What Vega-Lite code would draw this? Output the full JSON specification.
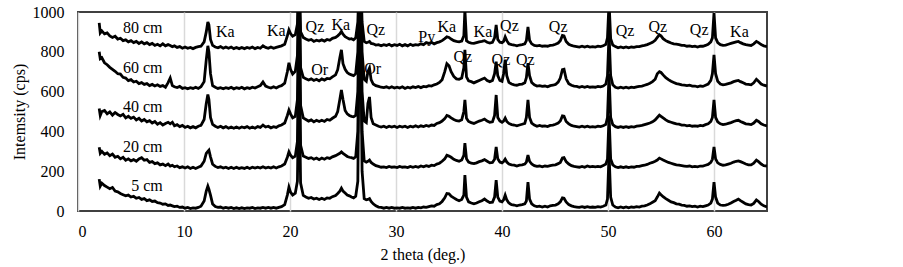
{
  "$schema": "https://vega.github.io/schema/vega-lite/v6.json",
  "autosize": {"type": "none"},
  "padding": {"left": 78, "top": 12, "right": 136, "bottom": 56},
  "width": 689,
  "height": 199,
  "background": "white",
  "config": {
    "view": {"stroke": "#404040", "strokeWidth": 2},
    "font": "Liberation Serif"
  },
  "encoding": {
    "x": {
      "field": "t", "type": "quantitative",
      "scale": {"domain": [0, 65], "nice": false},
      "axis": {
        "title": "2 theta (deg.)", "values": [0, 10, 20, 30, 40, 50, 60], "format": "d",
        "grid": true, "gridColor": "#d9d9d9", "gridWidth": 1.5,
        "domain": false, "ticks": false, "labelPadding": 12, "labelOverlap": false,
        "labelFont": "Liberation Serif", "labelFontSize": 16, "labelColor": "black",
        "titleFont": "Liberation Serif", "titleFontSize": 16, "titleFontWeight": "normal", "titleColor": "black", "titlePadding": 7
      }
    },
    "y": {
      "field": "i", "type": "quantitative",
      "scale": {"domain": [0, 1000], "nice": false},
      "axis": {
        "title": "Intemsity (cps)", "values": [0, 200, 400, 600, 800, 1000], "format": "d",
        "grid": false, "domain": false, "ticks": false, "labelPadding": 14, "labelOverlap": false,
        "labelFont": "Liberation Serif", "labelFontSize": 16, "labelColor": "black",
        "titleFont": "Liberation Serif", "titleFontSize": 16, "titleFontWeight": "normal", "titleColor": "black", "titlePadding": 5
      }
    }
  },
  "layer": [
    {
      "data": {"values": [
        {"t":2.0,"a":160,"b":320,"c":515,"d":800,"e":945},
        {"t":2.1,"a":125,"b":290,"c":480,"d":765,"e":895},
        {"t":2.25,"a":140,"b":300,"c":500,"d":770,"e":905},
        {"t":2.5,"a":128,"b":285,"c":505,"d":745,"e":890},
        {"t":2.75,"a":120,"b":292,"c":488,"d":735,"e":895},
        {"t":3.0,"a":112,"b":278,"c":498,"d":722,"e":880},
        {"t":3.25,"a":118,"b":286,"c":482,"d":712,"e":872},
        {"t":3.5,"a":100,"b":270,"c":495,"d":702,"e":878},
        {"t":3.75,"a":96,"b":275,"c":485,"d":690,"e":864},
        {"t":4.0,"a":88,"b":262,"c":478,"d":688,"e":868},
        {"t":4.25,"a":82,"b":270,"c":486,"d":672,"e":856},
        {"t":4.5,"a":76,"b":255,"c":468,"d":668,"e":860},
        {"t":4.75,"a":80,"b":262,"c":476,"d":655,"e":850},
        {"t":5.0,"a":70,"b":252,"c":466,"d":660,"e":856},
        {"t":5.25,"a":74,"b":258,"c":472,"d":648,"e":846},
        {"t":5.5,"a":64,"b":250,"c":458,"d":652,"e":852},
        {"t":5.75,"a":68,"b":262,"c":466,"d":640,"e":842},
        {"t":6.0,"a":58,"b":268,"c":452,"d":645,"e":850},
        {"t":6.25,"a":62,"b":255,"c":460,"d":636,"e":840},
        {"t":6.5,"a":52,"b":258,"c":448,"d":640,"e":846},
        {"t":6.75,"a":56,"b":244,"c":454,"d":630,"e":836},
        {"t":7.0,"a":48,"b":248,"c":442,"d":636,"e":842},
        {"t":7.25,"a":50,"b":238,"c":450,"d":628,"e":832},
        {"t":7.5,"a":42,"b":242,"c":436,"d":634,"e":838},
        {"t":7.75,"a":40,"b":232,"c":444,"d":626,"e":830},
        {"t":8.0,"a":34,"b":236,"c":432,"d":630,"e":840},
        {"t":8.25,"a":36,"b":228,"c":440,"d":622,"e":830},
        {"t":8.5,"a":28,"b":236,"c":446,"d":645,"e":836},
        {"t":8.7,"a":30,"b":226,"c":438,"d":668,"e":832},
        {"t":8.9,"a":26,"b":230,"c":446,"d":630,"e":826},
        {"t":9.1,"a":22,"b":222,"c":428,"d":624,"e":830},
        {"t":9.35,"a":24,"b":226,"c":434,"d":620,"e":822},
        {"t":9.6,"a":18,"b":218,"c":424,"d":626,"e":826},
        {"t":9.85,"a":20,"b":222,"c":430,"d":616,"e":818},
        {"t":10.1,"a":14,"b":216,"c":420,"d":620,"e":824},
        {"t":10.35,"a":18,"b":222,"c":426,"d":614,"e":818},
        {"t":10.6,"a":12,"b":214,"c":418,"d":620,"e":822},
        {"t":10.85,"a":16,"b":220,"c":424,"d":616,"e":816},
        {"t":11.1,"a":14,"b":214,"c":418,"d":622,"e":822},
        {"t":11.35,"a":18,"b":220,"c":426,"d":616,"e":826},
        {"t":11.6,"a":24,"b":226,"c":430,"d":624,"e":828},
        {"t":11.9,"a":50,"b":250,"c":460,"d":650,"e":850},
        {"t":12.1,"a":100,"b":290,"c":540,"d":760,"e":900},
        {"t":12.25,"a":125,"b":300,"c":585,"d":830,"e":950},
        {"t":12.35,"a":110,"b":306,"c":560,"d":800,"e":935},
        {"t":12.5,"a":80,"b":272,"c":470,"d":690,"e":862},
        {"t":12.7,"a":35,"b":235,"c":435,"d":630,"e":832},
        {"t":12.95,"a":22,"b":224,"c":426,"d":622,"e":824},
        {"t":13.2,"a":18,"b":218,"c":420,"d":616,"e":820},
        {"t":13.45,"a":20,"b":222,"c":426,"d":620,"e":826},
        {"t":13.7,"a":14,"b":216,"c":418,"d":614,"e":818},
        {"t":13.95,"a":18,"b":220,"c":424,"d":620,"e":824},
        {"t":14.2,"a":14,"b":214,"c":416,"d":616,"e":818},
        {"t":14.45,"a":18,"b":220,"c":422,"d":622,"e":824},
        {"t":14.7,"a":12,"b":214,"c":416,"d":614,"e":816},
        {"t":14.95,"a":16,"b":220,"c":422,"d":620,"e":822},
        {"t":15.2,"a":12,"b":214,"c":416,"d":616,"e":816},
        {"t":15.45,"a":16,"b":218,"c":422,"d":622,"e":822},
        {"t":15.7,"a":12,"b":214,"c":418,"d":614,"e":816},
        {"t":15.95,"a":16,"b":220,"c":424,"d":620,"e":822},
        {"t":16.2,"a":14,"b":214,"c":416,"d":616,"e":818},
        {"t":16.45,"a":18,"b":220,"c":422,"d":622,"e":824},
        {"t":16.7,"a":12,"b":216,"c":416,"d":618,"e":816},
        {"t":16.95,"a":16,"b":220,"c":424,"d":624,"e":822},
        {"t":17.2,"a":14,"b":216,"c":420,"d":630,"e":818},
        {"t":17.45,"a":18,"b":222,"c":432,"d":648,"e":830},
        {"t":17.7,"a":14,"b":216,"c":422,"d":628,"e":822},
        {"t":17.95,"a":18,"b":220,"c":426,"d":622,"e":818},
        {"t":18.2,"a":14,"b":216,"c":418,"d":618,"e":824},
        {"t":18.45,"a":18,"b":222,"c":424,"d":624,"e":818},
        {"t":18.7,"a":14,"b":216,"c":420,"d":618,"e":822},
        {"t":18.95,"a":18,"b":222,"c":428,"d":626,"e":826},
        {"t":19.2,"a":22,"b":226,"c":432,"d":630,"e":830},
        {"t":19.5,"a":32,"b":236,"c":442,"d":642,"e":838},
        {"t":19.75,"a":80,"b":270,"c":480,"d":700,"e":880},
        {"t":19.9,"a":120,"b":297,"c":507,"d":745,"e":910},
        {"t":20.05,"a":95,"b":280,"c":488,"d":712,"e":892},
        {"t":20.25,"a":80,"b":268,"c":468,"d":688,"e":878},
        {"t":20.5,"a":90,"b":276,"c":476,"d":702,"e":886},
        {"t":20.7,"a":150,"b":350,"c":560,"d":780,"e":940},
        {"t":20.85,"a":720,"b":920,"c":1150,"d":1250,"e":1250},
        {"t":21.0,"a":140,"b":330,"c":530,"d":720,"e":900},
        {"t":21.25,"a":78,"b":276,"c":468,"d":672,"e":872},
        {"t":21.5,"a":70,"b":270,"c":460,"d":664,"e":864},
        {"t":21.75,"a":64,"b":264,"c":452,"d":658,"e":858},
        {"t":22.0,"a":68,"b":268,"c":458,"d":664,"e":862},
        {"t":22.25,"a":60,"b":260,"c":448,"d":656,"e":852},
        {"t":22.5,"a":64,"b":266,"c":456,"d":662,"e":858},
        {"t":22.75,"a":58,"b":258,"c":450,"d":654,"e":854},
        {"t":23.0,"a":64,"b":266,"c":456,"d":664,"e":860},
        {"t":23.25,"a":58,"b":260,"c":450,"d":658,"e":854},
        {"t":23.5,"a":66,"b":268,"c":460,"d":666,"e":862},
        {"t":23.75,"a":64,"b":264,"c":456,"d":664,"e":858},
        {"t":24.0,"a":72,"b":272,"c":466,"d":674,"e":868},
        {"t":24.3,"a":78,"b":278,"c":476,"d":684,"e":872},
        {"t":24.5,"a":88,"b":284,"c":500,"d":710,"e":880},
        {"t":24.7,"a":100,"b":290,"c":560,"d":770,"e":890},
        {"t":24.85,"a":115,"b":297,"c":608,"d":810,"e":902},
        {"t":25.0,"a":100,"b":290,"c":560,"d":740,"e":888},
        {"t":25.2,"a":90,"b":282,"c":505,"d":712,"e":876},
        {"t":25.4,"a":80,"b":274,"c":488,"d":696,"e":870},
        {"t":25.6,"a":76,"b":270,"c":480,"d":688,"e":864},
        {"t":25.8,"a":70,"b":268,"c":476,"d":684,"e":866},
        {"t":26.0,"a":66,"b":264,"c":474,"d":680,"e":860},
        {"t":26.2,"a":74,"b":272,"c":480,"d":690,"e":870},
        {"t":26.4,"a":150,"b":400,"c":600,"d":800,"e":950},
        {"t":26.6,"a":1300,"b":1300,"c":1300,"d":1300,"e":1300},
        {"t":26.8,"a":200,"b":400,"c":600,"d":800,"e":950},
        {"t":27.0,"a":62,"b":252,"c":452,"d":662,"e":852},
        {"t":27.2,"a":56,"b":246,"c":444,"d":652,"e":846},
        {"t":27.35,"a":58,"b":250,"c":540,"d":700,"e":848},
        {"t":27.5,"a":62,"b":256,"c":573,"d":718,"e":852},
        {"t":27.65,"a":48,"b":244,"c":470,"d":660,"e":842},
        {"t":27.85,"a":36,"b":236,"c":438,"d":638,"e":840},
        {"t":28.1,"a":26,"b":228,"c":432,"d":630,"e":834},
        {"t":28.35,"a":20,"b":224,"c":426,"d":626,"e":836},
        {"t":28.6,"a":18,"b":220,"c":422,"d":622,"e":830},
        {"t":28.85,"a":14,"b":222,"c":426,"d":620,"e":836},
        {"t":29.1,"a":18,"b":218,"c":420,"d":624,"e":832},
        {"t":29.35,"a":14,"b":224,"c":426,"d":618,"e":838},
        {"t":29.6,"a":18,"b":220,"c":422,"d":624,"e":830},
        {"t":29.85,"a":14,"b":222,"c":426,"d":618,"e":836},
        {"t":30.1,"a":16,"b":218,"c":420,"d":622,"e":832},
        {"t":30.35,"a":14,"b":224,"c":426,"d":618,"e":838},
        {"t":30.6,"a":18,"b":220,"c":422,"d":624,"e":830},
        {"t":30.85,"a":14,"b":222,"c":426,"d":616,"e":836},
        {"t":31.1,"a":16,"b":218,"c":420,"d":622,"e":830},
        {"t":31.35,"a":14,"b":224,"c":426,"d":618,"e":838},
        {"t":31.6,"a":18,"b":220,"c":422,"d":624,"e":832},
        {"t":31.85,"a":14,"b":224,"c":428,"d":620,"e":836},
        {"t":32.1,"a":18,"b":220,"c":422,"d":626,"e":834},
        {"t":32.35,"a":16,"b":226,"c":428,"d":620,"e":840},
        {"t":32.6,"a":20,"b":222,"c":424,"d":626,"e":836},
        {"t":32.85,"a":18,"b":228,"c":430,"d":624,"e":846},
        {"t":33.1,"a":22,"b":224,"c":426,"d":630,"e":842},
        {"t":33.35,"a":26,"b":230,"c":432,"d":628,"e":848},
        {"t":33.6,"a":24,"b":228,"c":430,"d":634,"e":840},
        {"t":33.85,"a":32,"b":236,"c":440,"d":638,"e":846},
        {"t":34.1,"a":36,"b":240,"c":444,"d":646,"e":850},
        {"t":34.35,"a":48,"b":250,"c":452,"d":660,"e":856},
        {"t":34.6,"a":66,"b":262,"c":464,"d":700,"e":866},
        {"t":34.8,"a":88,"b":280,"c":480,"d":740,"e":875},
        {"t":35.0,"a":86,"b":276,"c":476,"d":730,"e":872},
        {"t":35.2,"a":74,"b":270,"c":468,"d":700,"e":864},
        {"t":35.45,"a":66,"b":260,"c":460,"d":676,"e":856},
        {"t":35.7,"a":58,"b":254,"c":454,"d":664,"e":852},
        {"t":35.95,"a":52,"b":250,"c":452,"d":662,"e":850},
        {"t":36.2,"a":58,"b":256,"c":458,"d":668,"e":854},
        {"t":36.4,"a":80,"b":280,"c":500,"d":720,"e":880},
        {"t":36.5,"a":180,"b":341,"c":558,"d":810,"e":1010},
        {"t":36.65,"a":70,"b":262,"c":466,"d":674,"e":856},
        {"t":36.85,"a":46,"b":246,"c":450,"d":654,"e":848},
        {"t":37.1,"a":40,"b":240,"c":444,"d":650,"e":844},
        {"t":37.35,"a":36,"b":238,"c":440,"d":644,"e":842},
        {"t":37.6,"a":40,"b":242,"c":446,"d":650,"e":846},
        {"t":37.85,"a":46,"b":248,"c":452,"d":656,"e":850},
        {"t":38.1,"a":52,"b":252,"c":456,"d":662,"e":852},
        {"t":38.35,"a":60,"b":258,"c":462,"d":668,"e":856},
        {"t":38.6,"a":50,"b":250,"c":452,"d":656,"e":848},
        {"t":38.85,"a":42,"b":242,"c":446,"d":650,"e":844},
        {"t":39.1,"a":44,"b":244,"c":448,"d":656,"e":848},
        {"t":39.3,"a":70,"b":260,"c":480,"d":690,"e":870},
        {"t":39.45,"a":155,"b":322,"c":583,"d":750,"e":935},
        {"t":39.6,"a":70,"b":262,"c":470,"d":680,"e":862},
        {"t":39.8,"a":50,"b":246,"c":452,"d":656,"e":848},
        {"t":40.0,"a":46,"b":242,"c":446,"d":652,"e":846},
        {"t":40.15,"a":56,"b":248,"c":452,"d":690,"e":852},
        {"t":40.3,"a":80,"b":260,"c":467,"d":760,"e":875},
        {"t":40.45,"a":56,"b":246,"c":450,"d":680,"e":856},
        {"t":40.65,"a":40,"b":236,"c":440,"d":646,"e":840},
        {"t":40.9,"a":32,"b":232,"c":434,"d":638,"e":836},
        {"t":41.15,"a":30,"b":230,"c":432,"d":634,"e":834},
        {"t":41.4,"a":26,"b":226,"c":428,"d":632,"e":830},
        {"t":41.65,"a":30,"b":230,"c":432,"d":636,"e":834},
        {"t":41.9,"a":32,"b":232,"c":436,"d":638,"e":836},
        {"t":42.15,"a":36,"b":236,"c":440,"d":644,"e":840},
        {"t":42.3,"a":50,"b":246,"c":470,"d":670,"e":856},
        {"t":42.45,"a":145,"b":281,"c":558,"d":743,"e":925},
        {"t":42.6,"a":60,"b":250,"c":470,"d":680,"e":858},
        {"t":42.8,"a":36,"b":236,"c":442,"d":646,"e":840},
        {"t":43.05,"a":26,"b":228,"c":432,"d":634,"e":832},
        {"t":43.3,"a":22,"b":224,"c":426,"d":628,"e":830},
        {"t":43.55,"a":24,"b":226,"c":430,"d":630,"e":832},
        {"t":43.8,"a":20,"b":222,"c":426,"d":626,"e":828},
        {"t":44.05,"a":24,"b":226,"c":428,"d":628,"e":830},
        {"t":44.3,"a":20,"b":224,"c":424,"d":624,"e":828},
        {"t":44.55,"a":26,"b":228,"c":430,"d":630,"e":832},
        {"t":44.8,"a":28,"b":230,"c":432,"d":632,"e":834},
        {"t":45.05,"a":30,"b":232,"c":436,"d":636,"e":838},
        {"t":45.3,"a":36,"b":238,"c":442,"d":648,"e":844},
        {"t":45.5,"a":46,"b":244,"c":452,"d":668,"e":856},
        {"t":45.7,"a":66,"b":266,"c":478,"d":710,"e":882},
        {"t":45.85,"a":64,"b":268,"c":476,"d":712,"e":880},
        {"t":46.05,"a":46,"b":248,"c":450,"d":664,"e":852},
        {"t":46.3,"a":32,"b":236,"c":438,"d":640,"e":838},
        {"t":46.55,"a":26,"b":228,"c":430,"d":632,"e":832},
        {"t":46.8,"a":22,"b":224,"c":426,"d":628,"e":828},
        {"t":47.05,"a":20,"b":222,"c":424,"d":626,"e":826},
        {"t":47.3,"a":18,"b":220,"c":422,"d":622,"e":824},
        {"t":47.55,"a":22,"b":224,"c":426,"d":626,"e":828},
        {"t":47.8,"a":18,"b":220,"c":422,"d":622,"e":824},
        {"t":48.05,"a":22,"b":226,"c":426,"d":626,"e":828},
        {"t":48.3,"a":18,"b":222,"c":422,"d":622,"e":824},
        {"t":48.55,"a":20,"b":224,"c":424,"d":624,"e":826},
        {"t":48.8,"a":18,"b":222,"c":422,"d":622,"e":824},
        {"t":49.05,"a":22,"b":224,"c":426,"d":626,"e":828},
        {"t":49.3,"a":20,"b":222,"c":424,"d":624,"e":826},
        {"t":49.55,"a":24,"b":228,"c":428,"d":628,"e":830},
        {"t":49.8,"a":30,"b":236,"c":436,"d":638,"e":838},
        {"t":49.95,"a":60,"b":260,"c":470,"d":680,"e":870},
        {"t":50.1,"a":290,"b":480,"c":690,"d":890,"e":1050},
        {"t":50.25,"a":70,"b":262,"c":470,"d":680,"e":866},
        {"t":50.45,"a":30,"b":232,"c":434,"d":634,"e":834},
        {"t":50.7,"a":20,"b":222,"c":424,"d":622,"e":826},
        {"t":50.95,"a":16,"b":218,"c":420,"d":618,"e":820},
        {"t":51.2,"a":20,"b":222,"c":424,"d":622,"e":824},
        {"t":51.45,"a":16,"b":218,"c":420,"d":618,"e":820},
        {"t":51.7,"a":20,"b":222,"c":424,"d":622,"e":824},
        {"t":51.95,"a":16,"b":218,"c":420,"d":618,"e":820},
        {"t":52.2,"a":20,"b":222,"c":424,"d":622,"e":824},
        {"t":52.45,"a":18,"b":220,"c":422,"d":620,"e":822},
        {"t":52.7,"a":22,"b":224,"c":426,"d":624,"e":826},
        {"t":52.95,"a":20,"b":224,"c":428,"d":626,"e":826},
        {"t":53.2,"a":24,"b":228,"c":430,"d":628,"e":830},
        {"t":53.45,"a":26,"b":230,"c":434,"d":632,"e":832},
        {"t":53.7,"a":30,"b":234,"c":438,"d":636,"e":836},
        {"t":53.95,"a":36,"b":240,"c":442,"d":642,"e":842},
        {"t":54.2,"a":44,"b":244,"c":448,"d":650,"e":848},
        {"t":54.45,"a":52,"b":250,"c":458,"d":662,"e":858},
        {"t":54.65,"a":70,"b":256,"c":470,"d":690,"e":872},
        {"t":54.85,"a":90,"b":266,"c":482,"d":700,"e":885},
        {"t":55.0,"a":82,"b":262,"c":476,"d":696,"e":880},
        {"t":55.2,"a":72,"b":256,"c":468,"d":684,"e":866},
        {"t":55.45,"a":62,"b":250,"c":458,"d":670,"e":856},
        {"t":55.7,"a":54,"b":244,"c":450,"d":660,"e":850},
        {"t":55.95,"a":46,"b":240,"c":446,"d":652,"e":844},
        {"t":56.2,"a":42,"b":236,"c":442,"d":646,"e":840},
        {"t":56.45,"a":36,"b":232,"c":438,"d":640,"e":838},
        {"t":56.7,"a":34,"b":230,"c":436,"d":638,"e":836},
        {"t":56.95,"a":30,"b":228,"c":432,"d":634,"e":832},
        {"t":57.2,"a":28,"b":226,"c":432,"d":632,"e":832},
        {"t":57.45,"a":24,"b":224,"c":428,"d":630,"e":828},
        {"t":57.7,"a":26,"b":226,"c":430,"d":632,"e":830},
        {"t":57.95,"a":22,"b":222,"c":426,"d":628,"e":826},
        {"t":58.2,"a":24,"b":224,"c":428,"d":628,"e":828},
        {"t":58.45,"a":20,"b":222,"c":426,"d":624,"e":824},
        {"t":58.7,"a":24,"b":226,"c":430,"d":628,"e":828},
        {"t":58.95,"a":22,"b":226,"c":428,"d":626,"e":828},
        {"t":59.2,"a":26,"b":230,"c":434,"d":632,"e":832},
        {"t":59.45,"a":30,"b":234,"c":438,"d":638,"e":838},
        {"t":59.7,"a":40,"b":244,"c":450,"d":656,"e":850},
        {"t":59.85,"a":60,"b":260,"c":470,"d":690,"e":870},
        {"t":60.0,"a":145,"b":322,"c":558,"d":785,"e":995},
        {"t":60.15,"a":70,"b":262,"c":470,"d":690,"e":870},
        {"t":60.35,"a":40,"b":242,"c":448,"d":652,"e":846},
        {"t":60.6,"a":30,"b":234,"c":438,"d":638,"e":836},
        {"t":60.85,"a":28,"b":230,"c":434,"d":634,"e":832},
        {"t":61.1,"a":30,"b":232,"c":436,"d":636,"e":834},
        {"t":61.35,"a":34,"b":236,"c":440,"d":640,"e":838},
        {"t":61.6,"a":40,"b":240,"c":444,"d":644,"e":842},
        {"t":61.85,"a":48,"b":246,"c":450,"d":650,"e":846},
        {"t":62.1,"a":54,"b":250,"c":454,"d":654,"e":850},
        {"t":62.3,"a":60,"b":252,"c":456,"d":656,"e":852},
        {"t":62.5,"a":52,"b":248,"c":450,"d":650,"e":846},
        {"t":62.75,"a":44,"b":242,"c":444,"d":644,"e":840},
        {"t":63.0,"a":36,"b":236,"c":438,"d":638,"e":836},
        {"t":63.25,"a":32,"b":232,"c":436,"d":636,"e":834},
        {"t":63.5,"a":30,"b":232,"c":434,"d":634,"e":832},
        {"t":63.75,"a":38,"b":240,"c":442,"d":644,"e":840},
        {"t":64.0,"a":56,"b":256,"c":456,"d":662,"e":852},
        {"t":64.2,"a":48,"b":248,"c":450,"d":652,"e":846},
        {"t":64.45,"a":34,"b":236,"c":438,"d":638,"e":836},
        {"t":64.7,"a":26,"b":228,"c":432,"d":632,"e":830},
        {"t":65.0,"a":20,"b":226,"c":428,"d":628,"e":826}
      ]},
      "transform": [{"fold": ["a", "b", "c", "d", "e"], "as": ["s", "i"]}],
      "mark": {"type": "line", "clip": true, "color": "black", "strokeWidth": 2.8, "strokeJoin": "miter"},
      "encoding": {
        "detail": {"field": "s"}
      }
    },
    {
      "data": {"values": [
        {"t":6.1,"i":920,"label":"80 cm"},
        {"t":6.1,"i":718,"label":"60 cm"},
        {"t":6.1,"i":522,"label":"40 cm"},
        {"t":6.1,"i":322,"label":"20 cm"},
        {"t":6.5,"i":126,"label":"5 cm"},
        {"t":13.9,"i":900,"label":"Ka"},
        {"t":18.7,"i":905,"label":"Ka"},
        {"t":22.35,"i":925,"label":"Qz"},
        {"t":24.8,"i":935,"label":"Ka"},
        {"t":28.1,"i":910,"label":"Qz"},
        {"t":22.8,"i":708,"label":"Or"},
        {"t":27.8,"i":713,"label":"Or"},
        {"t":32.9,"i":874,"label":"Py"},
        {"t":34.8,"i":925,"label":"Ka"},
        {"t":38.2,"i":900,"label":"Ka"},
        {"t":40.7,"i":930,"label":"Qz"},
        {"t":45.3,"i":925,"label":"Qz"},
        {"t":36.3,"i":774,"label":"Qz"},
        {"t":39.9,"i":759,"label":"Qz"},
        {"t":42.2,"i":759,"label":"Qz"},
        {"t":51.6,"i":905,"label":"Qz"},
        {"t":54.7,"i":925,"label":"Qz"},
        {"t":58.6,"i":910,"label":"Qz"},
        {"t":62.4,"i":900,"label":"Ka"}
      ]},
      "mark": {"type": "text", "font": "Liberation Serif", "fontSize": 16, "color": "black", "align": "center", "baseline": "middle"},
      "encoding": {
        "text": {"field": "label"}
      }
    }
  ]
}
